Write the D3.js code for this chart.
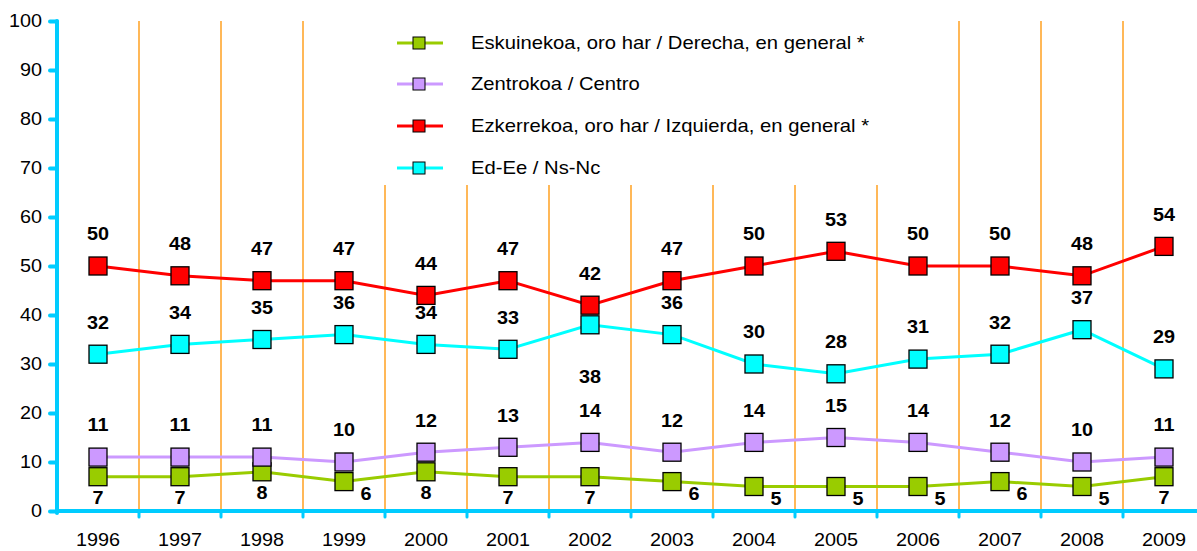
<!DOCTYPE html>
<html><head><meta charset="utf-8">
<script src="https://cdn.jsdelivr.net/npm/d3@7"></script>
<style>
body{margin:0;background:#fff;}
text{font-family:"Liberation Sans",Arial,sans-serif;}
</style></head>
<body><svg id="c" width="1197" height="551"></svg>
<script>
const years = ["1996","1997","1998","1999","2000","2001","2002","2003","2004","2005","2006","2007","2008","2009"];
const derecha = [7,7,8,6,8,7,7,6,5,5,5,6,5,7];
const centro = [11,11,11,10,12,13,14,12,14,15,14,12,10,11];
const izquierda = [50,48,47,47,44,47,42,47,50,53,50,50,48,54];
const nsnc = [32,34,35,36,34,33,38,36,30,28,31,32,37,29];
const yTicks = [0,10,20,30,40,50,60,70,80,90,100];
const seriesNames = ["Eskuinekoa, oro har / Derecha, en general *","Zentrokoa / Centro","Ezkerrekoa, oro har / Izquierda, en general *","Ed-Ee / Ns-Nc"];
// label placement codes: a = above, b = below, br = below-right, bb = far below
const derechaPlace = ["b","b","b","br","b","b","b","br","br","br","br","br","br","b"];
const centroPlace = ["a","a","a","a","a","a","a","a","a","a","a","a","a","a"];
const izqPlace = ["a","a","a","a","a","a","a","a","a","a","a","a","a","a"];
const nsncPlace = ["a","a","a","a","a","a","bb","a","a","a","a","a","a","a"];

const series = [
  {name:seriesNames[0], values:derecha, place:derechaPlace, color:"#99CC00"},
  {name:seriesNames[1], values:centro, place:centroPlace, color:"#CC99FF"},
  {name:seriesNames[2], values:izquierda, place:izqPlace, color:"#FF0000"},
  {name:seriesNames[3], values:nsnc, place:nsncPlace, color:"#00FFFF"}
];

const svg = d3.select("#c");
const mLeft = 57, bw = 82, mTop = 21, mBottom = 511;
const sx = 1.1; // horizontal text stretch seen in the reference
const x = d3.scaleBand().domain(years).range([mLeft, mLeft + bw*years.length]);
const y = d3.scaleLinear().domain([0,100]).range([mBottom, mTop]);
const cx = d => x(d) + x.bandwidth()/2;
const axisColor = "#00CCFF", gridColor = "#FFA020";

// legend box region
const lg = {x0:383, x1:880, y1:185};

// vertical grid lines at band boundaries
const bounds = years.slice(1).map(d => x(d));
svg.append("g").selectAll("line").data(bounds).join("line")
  .attr("x1", d=>d).attr("x2", d=>d)
  .attr("y1", d => (d > lg.x0 && d < lg.x1) ? lg.y1 : mTop)
  .attr("y2", mBottom)
  .attr("stroke", gridColor).attr("stroke-width", 1.5);

// Y axis
const yAxis = svg.append("g").attr("transform",`translate(${mLeft},0)`)
  .call(d3.axisLeft(y).tickValues(yTicks).tickSize(7).tickPadding(8).tickFormat(d3.format("d")));
yAxis.select(".domain").remove();
yAxis.selectAll(".tick line").attr("stroke", axisColor).attr("stroke-width", 4).attr("stroke-linecap","round");
yAxis.selectAll(".tick text").attr("font-size", 18).attr("fill","#000")
  .attr("font-family","Liberation Sans, Arial, sans-serif")
  .attr("x", -15/sx).attr("transform",`scale(${sx},1)`);
svg.append("line").attr("x1",mLeft).attr("x2",mLeft).attr("y1",mTop).attr("y2",mBottom+2)
  .attr("stroke",axisColor).attr("stroke-width",4).attr("stroke-linecap","round");

// X axis
svg.append("line").attr("x1",mLeft).attr("x2",1205).attr("y1",mBottom).attr("y2",mBottom)
  .attr("stroke",axisColor).attr("stroke-width",4).attr("stroke-linecap","round");
svg.append("g").selectAll("line").data(bounds).join("line")
  .attr("x1",d=>d).attr("x2",d=>d).attr("y1",mBottom).attr("y2",mBottom+6)
  .attr("stroke",axisColor).attr("stroke-width",3).attr("stroke-linecap","round");
const xAxis = svg.append("g").attr("transform",`translate(0,${mBottom})`)
  .call(d3.axisBottom(x).tickSize(0).tickPadding(22));
xAxis.select(".domain").remove();
xAxis.selectAll(".tick text").attr("font-size",18).attr("fill","#000")
  .attr("font-family","Liberation Sans, Arial, sans-serif")
  .attr("transform",`scale(${sx},1)`);

// lines
const line = d3.line().x((v,i)=>cx(years[i])).y(v=>y(v));
series.forEach(s=>{
  svg.append("path").datum(s.values).attr("d",line).attr("fill","none")
    .attr("stroke",s.color).attr("stroke-width",3);
});
// markers
const ms = 18;
series.forEach(s=>{
  svg.append("g").selectAll("rect").data(s.values).join("rect")
    .attr("x",(v,i)=>cx(years[i])-ms/2).attr("y",v=>y(v)-ms/2)
    .attr("width",ms).attr("height",ms)
    .attr("fill",s.color).attr("stroke","#000").attr("stroke-width",1.3);
});
// data labels
const off = {a:[0,-32], b:[0,21], br:[22,12], bb:[0,52]};
series.forEach(s=>{
  svg.append("g").selectAll("text").data(s.values).join("text")
    .attr("transform",(v,i)=>`translate(${cx(years[i]) + off[s.place[i]][0]},${y(v) + off[s.place[i]][1]}) scale(${sx},1)`)
    .attr("dy","0.35em").attr("text-anchor","middle")
    .attr("font-size",18).attr("font-weight","bold").attr("fill","#000")
    .text(v=>v);
});

// legend
const leg = svg.append("g");
leg.append("rect").attr("x",lg.x0).attr("y",0).attr("width",lg.x1-lg.x0).attr("height",lg.y1).attr("fill","#fff");
const ly = [43,84,126,168];
series.forEach((s,i)=>{
  const g = leg.append("g").attr("transform",`translate(0,${ly[i]})`);
  g.append("line").attr("x1",397).attr("x2",443).attr("y1",0).attr("y2",0).attr("stroke",s.color).attr("stroke-width",3);
  g.append("rect").attr("x",413).attr("y",-6).attr("width",12).attr("height",12).attr("fill",s.color).attr("stroke","#000").attr("stroke-width",1);
  g.append("text").attr("transform",`translate(471,0) scale(1.125,1)`).attr("dy","0.35em")
    .attr("font-size",18).attr("fill","#000").text(s.name);
});
</script></body></html>
